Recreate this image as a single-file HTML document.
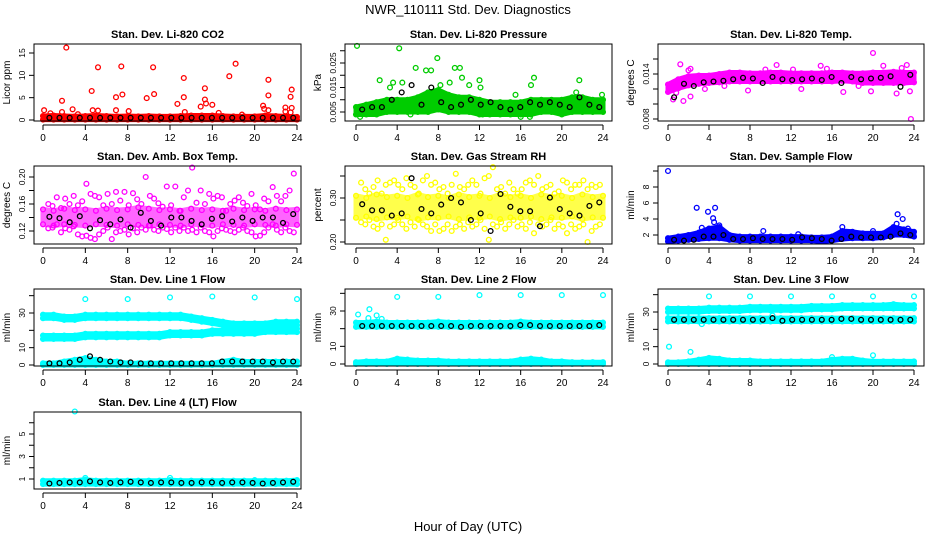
<!DOCTYPE html>
<html><head><meta charset="utf-8">
<style>
body{margin:0;background:#fff;}
svg{display:block;font-family:"Liberation Sans",sans-serif;}
</style></head>
<body>
<svg id="chart" width="936" height="540" viewBox="0 0 936 540" xmlns="http://www.w3.org/2000/svg">
<rect width="936" height="540" fill="#fff"/>
<text x="468" y="14" font-size="13" text-anchor="middle">NWR_110111 Std. Dev. Diagnostics</text>
<text x="468" y="531" font-size="13" text-anchor="middle">Hour of Day (UTC)</text>
</svg>
<script>
const H=[0,1,2,3,4,5,6,7,8,9,10,11,12,13,14,15,16,17,18,19,20,21,22,23,24];
const xTicks=[0,4,8,12,16,20,24];

const co2Lo=[0.1,0.1,0.1,0.1,0.1,0.1,0.1,0.1,0.1,0.1,0.1,0.1,0.1,0.1,0.1,0.1,0.1,0.1,0.1,0.1,0.1,0.1,0.1,0.1,0.1];
const co2Hi=[0.9,1.0,0.9,0.8,0.9,1.0,0.9,0.8,0.9,0.8,0.9,0.8,0.8,0.9,1.0,1.0,1.0,0.9,0.8,0.8,0.8,1.0,0.9,0.8,0.7];
const co2OutX=[0.1,1.8,1.8,2.2,2.8,4.6,4.7,5.2,5.2,6.9,6.9,7.4,7.5,8.1,9.8,10.4,10.5,12.7,13.3,13.3,13.4,14.9,15.3,15.3,15.4,16,17.6,18.2,20.8,20.9,21.3,21.3,21.3,22.9,22.9,23.4,23.5,23.5,23.4,0.7,3.3,16.6,18.8];
const co2OutY=[2.2,4.3,1.8,16.2,2.4,6.5,2.2,11.8,2.1,5.1,2.2,12,5.7,2,4.9,11.8,5.8,3.6,9.4,5.1,1.8,3.0,7.1,4.6,3.7,3.4,9.8,12.6,3.2,2.5,9,5.5,2.2,2.8,1.9,5.2,6.8,2.7,1.7,1.5,1.3,1.6,1.2];
const co2Black=[0.5,0.5,0.5,0.5,0.5,0.5,0.5,0.5,0.5,0.5,0.5,0.5,0.5,0.5,0.5,0.5,0.5,0.5,0.5,0.5,0.5,0.5,0.5,0.5,0.5];

const presLo=[0.004,0.004,0.004,0.005,0.005,0.005,0.005,0.005,0.006,0.005,0.005,0.005,0.004,0.004,0.004,0.004,0.004,0.004,0.005,0.005,0.004,0.005,0.005,0.005,0.005];
const presHi=[0.007,0.008,0.009,0.010,0.010,0.010,0.011,0.013,0.014,0.012,0.011,0.011,0.010,0.009,0.009,0.009,0.009,0.010,0.010,0.010,0.010,0.011,0.011,0.010,0.010];
const presOutX=[0.1,4.2,7.9,5.8,6.8,7.3,9.6,10.1,2.3,3.6,10.3,12,17.3,21.7,0.4,5.3,12.3,16,16.9,8.2,9.1,11,4.5,3.3,23.9,21.4,12.1,15.5,17.0];
const presOutY=[0.032,0.031,0.027,0.023,0.022,0.022,0.023,0.023,0.018,0.017,0.019,0.018,0.019,0.018,0.003,0.004,0.004,0.003,0.003,0.016,0.017,0.016,0.017,0.015,0.012,0.013,0.015,0.012,0.016];
const presBlack=[0.006,0.007,0.007,0.010,0.013,0.016,0.008,0.015,0.009,0.007,0.008,0.010,0.008,0.009,0.007,0.006,0.007,0.009,0.008,0.009,0.008,0.007,0.011,0.008,0.007];

const tempLo=[0.0116,0.0121,0.0125,0.0127,0.0128,0.0129,0.0130,0.0130,0.0130,0.0130,0.0130,0.0130,0.0130,0.0130,0.0130,0.0130,0.0130,0.0131,0.0130,0.0128,0.0128,0.0128,0.0128,0.0128,0.0129];
const tempHi=[0.0126,0.0133,0.0137,0.0138,0.0138,0.0140,0.0142,0.0142,0.0141,0.0141,0.0142,0.0142,0.0141,0.0141,0.0141,0.0141,0.0142,0.0142,0.0141,0.0141,0.0142,0.0142,0.0143,0.0142,0.0142];
const tempOutX=[1.2,0.5,1.5,2.2,2.2,10.6,14.9,20,21,23.3,23.7,7.8,12.2,17.1,19.8,22.3,23.6,0.8,3.6,13,2.0,5.5,9.5,15.5,18.6,22.8];
const tempOutY=[0.0153,0.0106,0.0104,0.0110,0.0147,0.0152,0.0151,0.0168,0.0151,0.0152,0.0080,0.0118,0.0146,0.0116,0.0117,0.0114,0.0117,0.0115,0.0120,0.0120,0.0145,0.0124,0.0146,0.0147,0.0124,0.0148];
const tempBlack=[0.0109,0.0127,0.0124,0.0129,0.0130,0.0131,0.0133,0.0135,0.0134,0.0128,0.0136,0.0133,0.0132,0.0133,0.0134,0.0132,0.0136,0.0128,0.0136,0.0133,0.0134,0.0135,0.0137,0.0123,0.0139];

const cloudX=[0.5,0.9,1.3,1.7,2.1,2.5,2.9,3.3,3.7,4.1,4.5,4.9,5.3,5.7,6.1,6.5,6.9,7.3,7.7,8.1,8.5,8.9,9.3,9.7,10.1,10.5,10.9,11.3,11.7,12.1,12.5,12.9,13.3,13.7,14.1,14.5,14.9,15.3,15.7,16.1,16.5,16.9,17.3,17.7,18.1,18.5,18.9,19.3,19.7,20.1,20.5,20.9,21.3,21.7,22.1,22.5,22.9,23.3,23.7];
const ambLo=[0.130,0.128,0.130,0.129,0.128,0.130,0.129,0.128,0.130,0.129,0.128,0.130,0.129,0.128,0.130,0.129,0.128,0.130,0.129,0.128,0.130,0.129,0.128,0.130,0.129];
const ambHi=[0.152,0.150,0.153,0.151,0.152,0.150,0.153,0.151,0.152,0.155,0.153,0.151,0.152,0.150,0.153,0.151,0.152,0.150,0.153,0.151,0.152,0.150,0.153,0.151,0.152];
const ambUp=[0.160,0.157,0.170,0.154,0.168,0.160,0.172,0.158,0.164,0.190,0.175,0.172,0.170,0.158,0.175,0.160,0.178,0.165,0.178,0.158,0.176,0.167,0.160,0.200,0.172,0.168,0.161,0.156,0.186,0.158,0.186,0.150,0.170,0.180,0.214,0.162,0.180,0.160,0.175,0.168,0.172,0.170,0.150,0.160,0.165,0.170,0.162,0.157,0.175,0.158,0.152,0.168,0.164,0.185,0.172,0.164,0.172,0.180,0.205];
const ambDn=[0.124,0.125,0.130,0.118,0.124,0.122,0.127,0.115,0.112,0.113,0.110,0.108,0.115,0.120,0.125,0.108,0.118,0.120,0.122,0.115,0.124,0.118,0.125,0.122,0.128,0.122,0.120,0.125,0.123,0.118,0.125,0.120,0.125,0.120,0.122,0.118,0.125,0.120,0.118,0.112,0.120,0.124,0.122,0.120,0.118,0.122,0.125,0.120,0.118,0.112,0.113,0.118,0.125,0.130,0.122,0.118,0.125,0.120,0.118];
const ambBlack=[0.141,0.139,0.133,0.142,0.124,0.136,0.130,0.137,0.125,0.147,0.135,0.128,0.140,0.140,0.135,0.130,0.138,0.142,0.134,0.140,0.135,0.140,0.140,0.132,0.145];

const rhLo=[0.255,0.258,0.252,0.256,0.255,0.258,0.252,0.256,0.255,0.258,0.252,0.256,0.255,0.258,0.252,0.256,0.255,0.258,0.252,0.256,0.255,0.258,0.252,0.256,0.255];
const rhHi=[0.305,0.300,0.308,0.302,0.305,0.300,0.308,0.302,0.305,0.300,0.308,0.302,0.305,0.300,0.308,0.302,0.305,0.300,0.308,0.302,0.305,0.300,0.308,0.302,0.305];
const rhUp=[0.335,0.32,0.31,0.325,0.34,0.31,0.33,0.335,0.34,0.33,0.32,0.345,0.33,0.325,0.31,0.34,0.35,0.33,0.335,0.32,0.325,0.31,0.33,0.355,0.325,0.32,0.33,0.34,0.33,0.31,0.345,0.35,0.37,0.32,0.325,0.31,0.335,0.32,0.31,0.32,0.335,0.34,0.33,0.35,0.32,0.325,0.33,0.31,0.315,0.34,0.335,0.32,0.33,0.33,0.34,0.32,0.33,0.325,0.33];
const rhDn=[0.245,0.24,0.25,0.235,0.23,0.24,0.205,0.235,0.24,0.25,0.24,0.23,0.245,0.235,0.25,0.24,0.235,0.225,0.24,0.225,0.23,0.24,0.225,0.235,0.24,0.23,0.245,0.235,0.24,0.25,0.23,0.205,0.24,0.235,0.245,0.23,0.24,0.25,0.235,0.24,0.23,0.245,0.22,0.24,0.235,0.24,0.25,0.23,0.24,0.235,0.22,0.24,0.23,0.235,0.24,0.2,0.225,0.235,0.24];
const rhBlack=[0.286,0.272,0.272,0.260,0.265,0.345,0.275,0.265,0.285,0.300,0.290,0.250,0.265,0.225,0.309,0.280,0.270,0.270,0.236,0.301,0.275,0.265,0.260,0.282,0.290];

const sfLo=[1.2,1.3,1.4,1.5,1.6,1.6,1.4,1.3,1.3,1.3,1.3,1.3,1.3,1.3,1.3,1.2,1.3,1.5,1.6,1.6,1.6,1.7,2.0,2.0,1.8];
const sfHi=[1.6,1.8,2.0,2.3,2.8,3.0,2.0,1.8,1.8,1.8,1.8,1.8,1.8,1.8,1.7,1.7,1.8,2.5,2.4,2.2,2.2,2.2,3.0,2.7,2.4];
const sfOutX=[0,2.8,3.9,4.6,4.4,4.5,5.0,5.2,9.3,12.7,17,20,22.4,22.3,22.9,23.4,3.3];
const sfOutY=[10,5.4,4.9,5.4,4.1,3.6,3.2,2.6,2.5,2.1,3.0,2.5,4.6,3.4,4.0,2.8,2.9];
const sfBlack=[1.4,1.3,1.4,1.8,1.8,2.0,1.5,1.5,1.6,1.5,1.5,1.5,1.4,1.7,1.6,1.5,1.3,1.5,1.8,1.7,1.7,1.7,1.8,2.2,2.0];

const l1TopLo=[27,27,26,26,27,27,27,27,27,27,27,27,27,27,26,25,24,23,22,22,22,22,23,23,23];
const l1TopHi=[29,29,28,28,29,29,29,29,29,29,29,29,29,29,28,27,26,25,24,24,24,24,25,25,25];
const l1MidLo=[15,15,15,15,16,16,16,16,16,16,16,16,17,17,17,17,18,18,18,18,18,19,19,19,19];
const l1MidHi=[17,17,17,17,18,18,18,18,18,18,18,18,19,19,19,19,20,20,20,20,20,21,21,21,21];
const l1BotLo=[0,0,0,0,0,0,0,0,0,0,0,0,0,0,0,0,0,0,0,0,0,0,0,0,0];
const l1BotHi=[1,1,2,3,4,3,2,2,1,1,1,1,1,1,1,1,1,2,3,2,2,2,2,2,2];
const l1OutX=[4,8,12,16,20,24];
const l1OutY=[38,38,39,39.5,39,38];
const l1Black=[1,1,1.5,3,5,3,2,1.5,1.5,1,1,1,1,1,1,1,1,2,2,2,2,2,1.5,2,2];

const l2TopLo=[21,21,21,21,21,21,21,21,21,21,21,21,21,21,21,21,21,21,21,21,21,21,21,21,21];
const l2TopHi=[23.5,23.5,24,23.5,23.5,23.5,23.5,23.5,24,23.5,23.5,23.5,23.5,23.5,23.5,23.5,24,23.5,23.5,23.5,23.5,23.5,23.5,23.5,23.5];
const l2BotLo=[0,0,0,0,0,0,0,0,0,0,0,0,0,0,0,0,0,0,0,0,0,0,0,0,0];
const l2BotHi=[1,1.5,1.5,1.5,3,2.5,2,2,2,1.5,1.5,1.5,1.5,1.5,1.5,1.5,2.5,3,2.5,1.5,1.5,1,1,1,1];
const l2OutX=[0.2,1.3,1.2,2.0,2.5,4,8,12,16,20,24];
const l2OutY=[28,31,26,27.5,25.5,38,38,39,39,39,39];
const l2Black=[21.5,21.5,21.5,21.5,21.5,21.5,21.5,21.5,21.5,21.5,21,21.5,21.5,21.5,21.5,21.5,22,22,21.5,21.5,21.5,21.5,21.5,21.5,22];

const l3TopLo=[30,30,30,30,30.5,30.5,30.5,30.5,31,31,31,31,31,31,31.5,31.5,31.5,32,32,32,32,32,32,32,32];
const l3TopHi=[32,32,32,32,32.5,32.5,32.5,32.5,33,33,33,33,33,33,33.5,33.5,33.5,34,34,34,34,34,34.5,34,34];
const l3MidLo=[24.5,24.5,24.5,24.5,24.5,24.5,24.5,24.5,24.5,24.5,24.5,24.5,24.5,24.5,24.5,24.5,24.5,24.5,24.5,24.5,24.5,24.5,24.5,24.5,24.5];
const l3MidHi=[26.5,26.5,26.5,26.5,26.5,26.5,26.5,26.5,26.5,26.5,26.5,26.5,26.5,26.5,26.5,26.5,26.5,26.5,26.5,26.5,26.5,26.5,26.5,26.5,26.5];
const l3BotLo=[0,0,0,0,0,0,0,0,0,0,0,0,0,0,0,0,0,0,0,0,0,0,0,0,0];
const l3BotHi=[1,1,1.5,2.5,3.5,3,2,2,2,1.5,1.5,1.5,1.5,1.5,1.5,1.5,2.5,3,3,2,1.5,1.5,1.5,1.5,1.5];
const l3OutX=[0.1,2.2,4,8,12,16,20,24,16,20,3.3,10.2];
const l3OutY=[10,7,39,39,39,39,39,39,4,5,23,28];
const l3Black=[25.5,25.5,25.5,25.5,25.5,25.5,25.5,25.5,25.5,25.5,26.5,25,25.5,25.5,25.5,25.5,25.5,26,26,25.5,25.5,25.5,25.5,25.5,25.5];

const l4Lo=[0.55,0.55,0.55,0.55,0.55,0.55,0.55,0.55,0.55,0.55,0.55,0.55,0.55,0.55,0.55,0.55,0.55,0.55,0.55,0.55,0.55,0.55,0.55,0.55,0.55];
const l4Hi=[0.85,0.85,0.85,0.85,0.95,0.85,0.85,0.85,0.85,0.85,0.85,0.85,0.9,0.85,0.85,0.85,0.85,0.85,0.85,0.85,0.85,0.85,0.85,0.85,0.9];
const l4OutX=[3,4,12,20];
const l4OutY=[7.0,1.1,1.1,0.9];
const l4Black=[0.6,0.65,0.7,0.7,0.8,0.7,0.65,0.7,0.75,0.7,0.65,0.7,0.7,0.65,0.65,0.7,0.7,0.65,0.7,0.7,0.65,0.6,0.65,0.7,0.75];

const NS="http://www.w3.org/2000/svg";
const svg=document.getElementById('chart');
function mk(tag,attrs,parent){const e=document.createElementNS(NS,tag);for(const k in attrs)e.setAttribute(k,attrs[k]);(parent||svg).appendChild(e);return e;}

function panel(p){
  const g=mk('g',{});
  
  
  const sx=h=>p.x0+(h/24)*(p.x1-p.x0);
  const sy=v=>p.p0+(v-p.v0)*(p.p1-p.p0)/(p.v1-p.v0);
  const t=mk('text',{x:(p.l+p.r)/2,y:p.t-6,'font-size':11,'font-weight':'bold','text-anchor':'middle'},g);
  t.textContent=p.title;
  
  
  const yl=mk('text',{transform:`translate(${p.l-24},${(p.t+p.b)/2}) rotate(-90)`,'font-size':10,'text-anchor':'middle'},g);
  yl.textContent=p.ylab;
  
  
  const marks=mk('g',{},g);
  
  
  const circ=(h,v,c)=>{const e=mk('circle',{cx:sx(h).toFixed(1),cy:sy(v).toFixed(1),r:2.4,fill:'none',stroke:c,'stroke-width':1.3},marks);
    
    };
  (p.bands||[]).forEach(b=>{
    let pts=H.map((h,i)=>sx(h).toFixed(1)+','+sy(b[0][i]).toFixed(1));
    pts=pts.concat(H.map((h,i)=>sx(h).toFixed(1)+','+sy(b[1][i]).toFixed(1)).reverse());
    const poly=mk('polygon',{points:pts.join(' '),fill:p.color,stroke:p.color,'stroke-width':5,'stroke-linejoin':'round',opacity:p.op||1},marks);
    
    
    H.forEach((h,i)=>{circ(h,b[0][i],p.color);circ(h,b[1][i],p.color);});
  });
  (p.scatters||[]).forEach(s=>{s[0].forEach((x,i)=>circ(x,s[1][i],p.color));});
  if(p.black)p.black.forEach((v,i)=>circ(0.6+i*0.96,v,'#000'));
  const box=mk('rect',{x:p.l,y:p.t,width:p.r-p.l,height:p.b-p.t,fill:'none',stroke:'#000','stroke-width':1},g);
  
  
  const ax=mk('g',{},g);
  
  
  mk('line',{x1:sx(0),x2:sx(24),y1:p.b+4,y2:p.b+4,stroke:'#000'},ax);
  xTicks.forEach(h=>{mk('line',{x1:sx(h),x2:sx(h),y1:p.b+4,y2:p.b+9,stroke:'#000'},ax);
    const tl=mk('text',{x:sx(h),y:p.b+20,'font-size':10,'text-anchor':'middle'},ax);tl.textContent=h;});
  const ay=mk('g',{},g);
  
  
  mk('line',{x1:p.l,x2:p.l,y1:sy(p.ticks[0]),y2:sy(p.ticks[p.ticks.length-1]),stroke:'#000'},ay);
  p.ticks.forEach(v=>{mk('line',{x1:p.l-5,x2:p.l,y1:sy(v),y2:sy(v),stroke:'#000'},ay);});
  p.labels.forEach(s=>{const tl=mk('text',{transform:`translate(${p.l-9},${sy(Number(s))}) rotate(-90)`,'font-size':8.5,'text-anchor':'middle'},ay);tl.textContent=s;});
}
const C1={l:34,r:301,x0:43,x1:297},C2={l:345,r:612,x0:356,x1:603},C3={l:658,r:924,x0:668,x1:914};
const R1={t:44,b:121},R2={t:166,b:244},R3={t:289,b:366},R4={t:412,b:489};
panel({...C1,...R1,name:'co2-panel',title:'Stan. Dev. Li-820 CO2',ylab:'Licor ppm',color:'#ff0000',v0:0,p0:120,v1:15,p1:53,ticks:[0,5,10,15],labels:['0','5','10','15'],bands:[[co2Lo,co2Hi]],scatters:[[co2OutX,co2OutY]],black:co2Black});
panel({...C2,...R1,name:'pressure-panel',title:'Stan. Dev. Li-820 Pressure',ylab:'kPa',color:'#00cc00',v0:0.005,p0:112,v1:0.025,p1:63,ticks:[0.005,0.010,0.015,0.020,0.025,0.030],labels:['0.005','0.015','0.025'],bands:[[presLo,presHi]],scatters:[[presOutX,presOutY]],black:presBlack});
panel({...C3,...R1,name:'temp-panel',title:'Stan. Dev. Li-820 Temp.',ylab:'degrees C',color:'#ff00ff',v0:0.008,p0:119,v1:0.014,p1:74,ticks:[0.008,0.010,0.012,0.014,0.016],labels:['0.008','0.014'],bands:[[tempLo,tempHi]],scatters:[[tempOutX,tempOutY]],black:tempBlack});
panel({...C1,...R2,name:'amb-box-panel',title:'Stan. Dev. Amb. Box Temp.',ylab:'degrees C',color:'#ff00ff',op:0.6,v0:0.12,p0:231,v1:0.20,p1:177,ticks:[0.12,0.14,0.16,0.18,0.20],labels:['0.12','0.16','0.20'],bands:[[ambLo,ambHi]],scatters:[[cloudX,ambUp],[cloudX,ambDn]],black:ambBlack});
panel({...C2,...R2,name:'rh-panel',title:'Stan. Dev. Gas Stream RH',ylab:'percent',color:'#ffff00',op:0.7,v0:0.20,p0:242,v1:0.30,p1:198,ticks:[0.20,0.25,0.30,0.35],labels:['0.20','0.30'],bands:[[rhLo,rhHi]],scatters:[[cloudX,rhUp],[cloudX,rhDn]],black:rhBlack});
panel({...C3,...R2,name:'sample-flow-panel',title:'Stan. Dev. Sample Flow',ylab:'ml/min',color:'#0000ff',v0:2,p0:235,v1:8,p1:187,ticks:[2,4,6,8,10],labels:['2','4','6','8'],bands:[[sfLo,sfHi]],scatters:[[sfOutX,sfOutY]],black:sfBlack});
panel({...C1,...R3,name:'line1-panel',title:'Stan. Dev. Line 1 Flow',ylab:'ml/min',color:'#00ffff',v0:0,p0:365,v1:30,p1:313,ticks:[0,10,20,30,40],labels:['0','10','30'],bands:[[l1TopLo,l1TopHi],[l1MidLo,l1MidHi],[l1BotLo,l1BotHi]],scatters:[[l1OutX,l1OutY]],black:l1Black});
panel({...C2,...R3,name:'line2-panel',title:'Stan. Dev. Line 2 Flow',ylab:'ml/min',color:'#00ffff',v0:0,p0:364,v1:30,p1:311,ticks:[0,10,20,30,40],labels:['0','10','30'],bands:[[l2TopLo,l2TopHi],[l2BotLo,l2BotHi]],scatters:[[l2OutX,l2OutY]],black:l2Black});
panel({...C3,...R3,name:'line3-panel',title:'Stan. Dev. Line 3 Flow',ylab:'ml/min',color:'#00ffff',v0:0,p0:364,v1:30,p1:312,ticks:[0,10,20,30,40],labels:['0','10','30'],bands:[[l3TopLo,l3TopHi],[l3MidLo,l3MidHi],[l3BotLo,l3BotHi]],scatters:[[l3OutX,l3OutY]],black:l3Black});
panel({...C1,...R4,name:'line4-panel',title:'Stan. Dev. Line 4 (LT) Flow',ylab:'ml/min',color:'#00ffff',v0:1,p0:479,v1:5,p1:434,ticks:[1,2,3,4,5,6],labels:['1','3','5'],bands:[[l4Lo,l4Hi]],scatters:[[l4OutX,l4OutY]],black:l4Black});
</script>
</body></html>
